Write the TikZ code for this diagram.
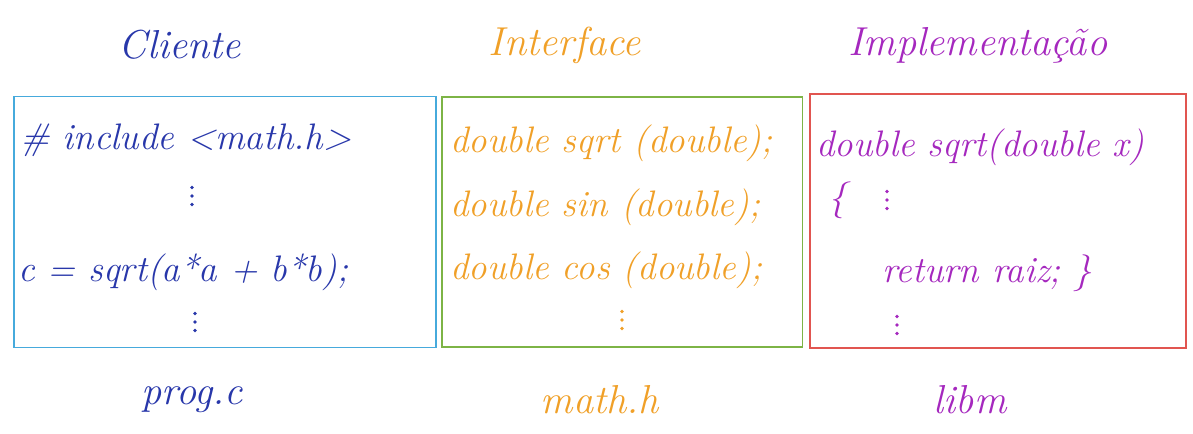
\documentclass[tikz,border=0pt]{standalone}
\usetikzlibrary{positioning}

\definecolor{clientblue}{RGB}{40,55,170}
\definecolor{clientframe}{RGB}{70,170,220}
\definecolor{ifaceorange}{RGB}{240,160,40}
\definecolor{ifaceframe}{RGB}{125,180,70}
\definecolor{implpurple}{RGB}{165,40,190}
\definecolor{implframe}{RGB}{225,85,80}

\tikzset{
  frame/.style={draw, line width=1.1pt, minimum width=#1, inner sep=0pt},
  title/.style={font=\fontsize{23}{26}\selectfont\itshape},
  code/.style={font=\fontsize{21}{25}\selectfont\itshape, anchor=west, inner sep=0pt}
}

\begin{document}
\begin{tikzpicture}[x=0.02cm, y=-0.02cm, node distance=0.5cm]
\useasboundingbox (0,0) rectangle (1193,433);

% Boxes
\node[frame=8.44cm, minimum height=5.02cm, clientframe] (cli) at (225,222) {};
\node[frame=7.22cm, minimum height=5.0cm, ifaceframe] (intf) at (622,222) {};
\node[frame=7.52cm, minimum height=5.08cm, implframe] (impl) at (998,221) {};

% Titles
\node[title, clientblue] (clititle) at (180,45) {Cliente};
\node[title, ifaceorange] (intftitle) at (565,45) {Interface};
\node[title, implpurple] (impltitle) at (978,45) {Implementação};

% File names
\node[title, clientblue] (clifile) at (192,400) {prog.c};
\node[title, ifaceorange] (intffile) at (600,400) {math.h};
\node[title, implpurple] (implfile) at (970,400) {libm};

% Client code
\node[code, clientblue] (inc) at (20,140) {\# include \textless math.h\textgreater};
\coordinate (clidotsa) at (192,196);
\node[code, clientblue] (call) at (18,272) {c = sqrt(a*a + b*b);};
\coordinate (clidotsb) at (195,322);

% Interface code
\node[code, ifaceorange] (protosqrt) at (450,143) {double sqrt (double);};
\node[code, ifaceorange] (protosin) at (450,207) {double sin (double);};
\node[code, ifaceorange] (protocos) at (450,270) {double cos (double);};
\coordinate (intfdots) at (622,320);

% Implementation code
\node[code, implpurple] (defsqrt) at (816,147) {double sqrt(double x)};
\node[code, implpurple] (open) at (828,200) {\{};
\coordinate (impldotsa) at (887,200);
\node[code, implpurple] (ret) at (882,273) {return raiz; \}};
\coordinate (impldotsb) at (897,325);

% Vertical ellipses
\foreach \p/\c in {clidotsa/clientblue, clidotsb/clientblue, intfdots/ifaceorange,
                   impldotsa/implpurple, impldotsb/implpurple}
  \foreach \k in {-1,0,1}
    \fill[\c] ([yshift=\k*0.17cm]\p) circle (1.1pt);

\end{tikzpicture}
\end{document}
